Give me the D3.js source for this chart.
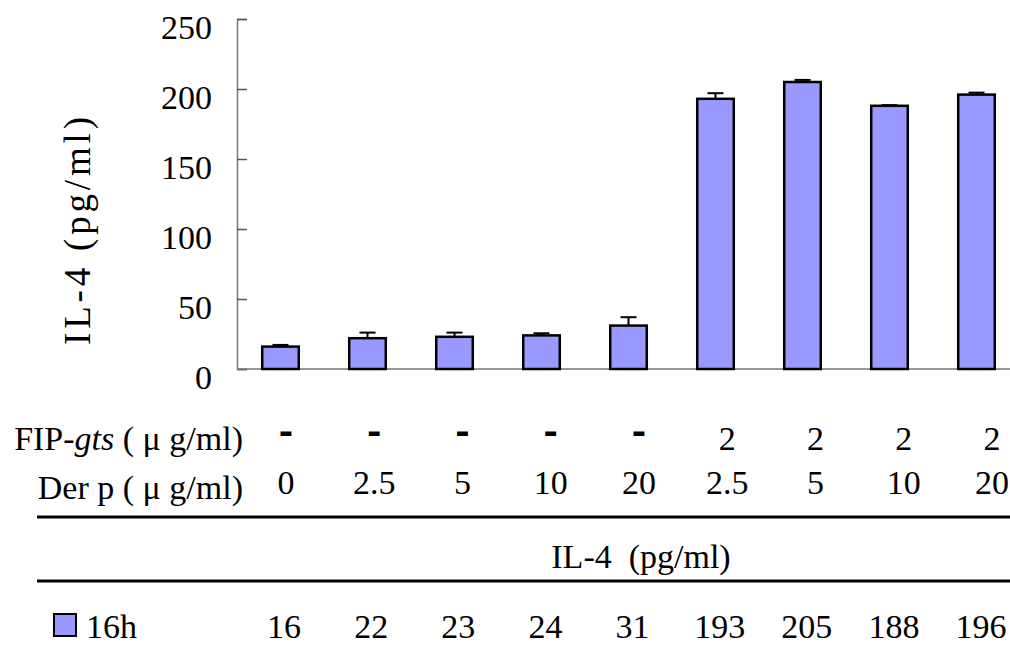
<!DOCTYPE html>
<html><head><meta charset="utf-8">
<script src="https://cdn.jsdelivr.net/npm/d3@7/dist/d3.min.js"></script>
</head><body style="margin:0">
<svg id="chart" width="1010" height="657"></svg>
<script>
// ---- data ----
const fipValues = ["-", "-", "-", "-", "-", "2", "2", "2", "2"];
const derpValues = ["0", "2.5", "5", "10", "20", "2.5", "5", "10", "20"];
const il4Values = [16, 22, 23, 24, 31, 193, 205, 188, 196];
const il4Errors = [1.2, 4, 3, 1.5, 6, 4, 1.5, 0.5, 1.4];
const yTicks = [0, 50, 100, 150, 200, 250];
const seriesName = "16h";
const yTitle = "IL-4 (pg/ml)";
const tableTitle = "IL-4  (pg/ml)";

const FONT = '"Liberation Serif", monospace';
const svg = d3.select("#chart");
const barColor = "#9999ff";
const FS = 34;

function T(sel) {
  return sel.append("text").style("font-family", FONT).attr("fill", "#000");
}

const idx = d3.range(il4Values.length);
const x = d3.scaleBand().domain(idx).range([237, 1020]).paddingInner(0.58).paddingOuter(0.29);
const y = d3.scaleLinear().domain([0, 250]).range([369, 19]);

// y axis (line + inward ticks)
const yAxis = d3.axisRight(y).tickValues(yTicks).tickSize(10).tickFormat("");
const gy = svg.append("g").attr("transform", "translate(237,0)").call(yAxis);
gy.select(".domain").attr("stroke", "#777").attr("stroke-width", 1.5);
gy.selectAll(".tick line").attr("stroke", "#555").attr("stroke-width", 1.5);

// tick labels
svg.append("g").selectAll("text").data(yTicks).join("text")
  .style("font-family", FONT)
  .attr("x", 212).attr("y", d => y(d) + 20)
  .attr("text-anchor", "end").attr("font-size", FS)
  .text(d => d);

// baseline
svg.append("line").attr("x1", 237).attr("x2", 1010)
  .attr("y1", y(0)).attr("y2", y(0))
  .attr("stroke", "#777").attr("stroke-width", 1.5);

// y title
T(svg)
  .attr("transform", "translate(90,231) rotate(-90)")
  .attr("text-anchor", "middle").attr("font-size", 37)
  .attr("textLength", 228).attr("lengthAdjust", "spacing")
  .text(yTitle);

// bars
svg.append("g").selectAll("rect").data(idx).join("rect")
  .attr("x", i => x(i)).attr("y", i => y(il4Values[i]))
  .attr("width", x.bandwidth()).attr("height", i => y(0) - y(il4Values[i]))
  .attr("fill", barColor).attr("stroke", "#000").attr("stroke-width", 2.5);

// error bars
const eb = svg.append("g").attr("stroke", "#000").attr("stroke-width", 2);
eb.selectAll("line.v").data(idx).join("line").attr("class", "v")
  .attr("x1", i => x(i) + x.bandwidth() / 2).attr("x2", i => x(i) + x.bandwidth() / 2)
  .attr("y1", i => y(il4Values[i])).attr("y2", i => y(il4Values[i] + il4Errors[i]));
eb.selectAll("line.c").data(idx).join("line").attr("class", "c")
  .attr("x1", i => x(i) + x.bandwidth() / 2 - 8).attr("x2", i => x(i) + x.bandwidth() / 2 + 8)
  .attr("y1", i => y(il4Values[i] + il4Errors[i])).attr("y2", i => y(il4Values[i] + il4Errors[i]));

// ---- table ----
const colTop = d3.scalePoint().domain(idx).range([286, 992]);
const colVal = d3.scalePoint().domain(idx).range([284, 981]);

const fipLabel = T(svg).attr("x", 243).attr("y", 450)
  .attr("text-anchor", "end").attr("font-size", FS);
fipLabel.append("tspan").text("FIP-");
fipLabel.append("tspan").attr("font-style", "italic").text("gts");
fipLabel.append("tspan").text(" ( \u03bc g/ml)");

svg.append("g").selectAll("text").data(idx).join("text")
  .style("font-family", FONT)
  .attr("x", i => colTop(i))
  .attr("y", i => fipValues[i] === "-" ? 442 : 450)
  .attr("text-anchor", "middle").attr("font-size", FS)
  .attr("stroke", i => fipValues[i] === "-" ? "#000" : "none")
  .attr("stroke-width", 2)
  .text(i => fipValues[i]);

T(svg).attr("x", 243).attr("y", 499)
  .attr("text-anchor", "end").attr("font-size", FS)
  .text("Der p ( \u03bc g/ml)");
svg.append("g").selectAll("text").data(idx).join("text")
  .style("font-family", FONT)
  .attr("x", i => colTop(i)).attr("y", 494)
  .attr("text-anchor", "middle").attr("font-size", FS)
  .text(i => derpValues[i]);

svg.append("line").attr("x1", 37).attr("x2", 1010).attr("y1", 517).attr("y2", 517)
  .attr("stroke", "#000").attr("stroke-width", 3);
svg.append("line").attr("x1", 37).attr("x2", 1010).attr("y1", 581).attr("y2", 581)
  .attr("stroke", "#000").attr("stroke-width", 3);

T(svg).attr("x", 641).attr("y", 568)
  .attr("text-anchor", "middle").attr("font-size", FS)
  .style("white-space", "pre")
  .text(tableTitle);

svg.append("rect").attr("x", 54).attr("y", 614).attr("width", 22).attr("height", 22)
  .attr("fill", barColor).attr("stroke", "#000").attr("stroke-width", 2);
T(svg).attr("x", 86).attr("y", 638).attr("font-size", FS).text(seriesName);
svg.append("g").selectAll("text").data(idx).join("text")
  .style("font-family", FONT)
  .attr("x", i => colVal(i)).attr("y", 638)
  .attr("text-anchor", "middle").attr("font-size", FS)
  .text(i => il4Values[i]);
</script>
</body></html>
